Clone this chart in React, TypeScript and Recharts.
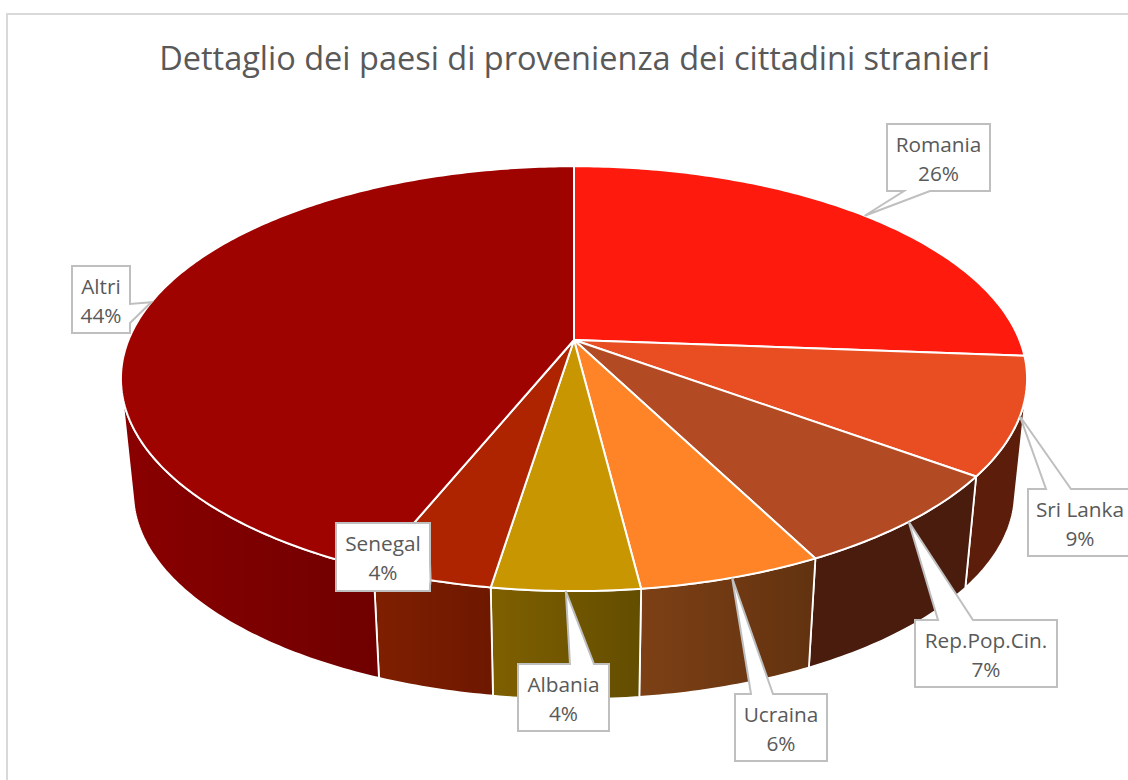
import React from "react";
import { PieChart, Pie } from "recharts";

const TITLE = "Dettaglio dei paesi di provenienza dei cittadini stranieri";
const countries = ["Romania", "Sri Lanka", "Rep.Pop.Cin.", "Ucraina", "Albania", "Senegal", "Altri"];
const shares = [26.2, 8.9, 7.4, 5.53, 4.42, 3.65, 43.9];
const topColors = ["#ff1a0e", "#e84e22", "#b24a24", "#ff8427", "#c89600", "#ae2400", "#9e0300"];
const sideLeftColors = ["#8a0c06", "#5c1e0a", "#4a1c0e", "#7d4015", "#7f6000", "#7f1f00", "#8a0000"];
const sideRightColors = ["#8a0c06", "#5c1e0a", "#4a1c0e", "#623210", "#634d00", "#6e1800", "#700000"];

// Callout layout: box x, y, w, h and the two points where the tail leaves the box.
const calloutBoxes = [
  { x: 887, y: 124, w: 103, h: 67, tail: [[930, 191], [904, 191]] },
  { x: 1028, y: 489, w: 104, h: 67, tail: [[1046, 489], [1071, 489]] },
  { x: 915, y: 620, w: 142, h: 67, tail: [[938, 620], [973, 620]] },
  { x: 735, y: 694, w: 92, h: 67, tail: [[751, 694], [773, 694]] },
  { x: 518, y: 664, w: 91, h: 67, tail: [[570, 664], [594, 664]] },
  { x: 336, y: 523, w: 94, h: 68, tail: [[430, 563], [430, 586]] },
  { x: 72, y: 266, w: 58, h: 67, tail: [[130, 304], [130, 323]] },
];

const chartData = countries.map((name, i) => ({ name, value: shares[i], idx: i }));

const PERSPECTIVE = 0.182;
const TILT = 0.461;
const DROP = 115;
const BASE_SCALE = 0.973;
const RAD = Math.PI / 180;
// Silhouette of the drum, in recharts angles (90 = top, -90 = bottom, -270 = top again).
const SILHOUETTE_RIGHT = -13;
const SILHOUETTE_LEFT = -167;

function project(cx: number, cy: number, r: number, deg: number, level: "top" | "base" = "top") {
  const X = Math.cos(deg * RAD);
  const Y = -Math.sin(deg * RAD);
  const d = 1 - PERSPECTIVE * Y;
  const s = level === "top" ? 1 : BASE_SCALE;
  const oy = level === "top" ? 0 : DROP;
  return { x: cx + (r * s * X) / d, y: cy + oy + (r * s * TILT * Y) / d };
}

function arcPoints(cx: number, cy: number, r: number, from: number, to: number, level: "top" | "base") {
  const n = Math.max(2, Math.ceil(Math.abs(to - from) / 0.75));
  const pts = [];
  for (let i = 0; i <= n; i++) pts.push(project(cx, cy, r, from + ((to - from) * i) / n, level));
  return pts;
}

const toPath = (pts: { x: number; y: number }[]) =>
  pts.map((p, i) => `${i ? "L" : "M"}${p.x.toFixed(2)} ${p.y.toFixed(2)}`).join(" ");

function TopFace(props: any) {
  const { cx, cy, outerRadius, startAngle, endAngle, payload } = props;
  const idx = payload?.idx ?? props.idx;
  const pts = arcPoints(cx, cy, outerRadius, startAngle, endAngle, "top");
  return (
    <path
      d={`M${cx} ${cy} ${toPath(pts).replace("M", "L")} Z`}
      fill={topColors[idx]}
      stroke="#ffffff"
      strokeWidth={2}
      strokeLinejoin="round"
    />
  );
}

function SideFace(props: any) {
  const { cx, cy, outerRadius, startAngle, endAngle, payload } = props;
  const idx = payload?.idx ?? props.idx;
  const from = Math.min(startAngle, SILHOUETTE_RIGHT);
  const to = Math.max(endAngle, SILHOUETTE_LEFT);
  if (from <= to) return <g />;
  const top = arcPoints(cx, cy, outerRadius, from, to, "top");
  const base = arcPoints(cx, cy, outerRadius, to, from, "base");
  const x1 = project(cx, cy, outerRadius, to, "top").x;
  const x2 = project(cx, cy, outerRadius, from, "top").x;
  const id = `side-grad-${idx}`;
  return (
    <g>
      <defs>
        <linearGradient id={id} gradientUnits="userSpaceOnUse" x1={x1} x2={x2} y1={0} y2={0}>
          <stop offset="0" stopColor={sideLeftColors[idx]} />
          <stop offset="1" stopColor={sideRightColors[idx]} />
        </linearGradient>
      </defs>
      <path
        d={`${toPath(top)} ${toPath(base).replace("M", "L")} Z`}
        fill={`url(#${id})`}
        stroke="#ffffff"
        strokeWidth={1.8}
        strokeLinejoin="round"
      />
    </g>
  );
}

function Callout(props: any) {
  const { cx, cy, outerRadius, midAngle, percent, name, payload, index } = props;
  const idx = payload?.idx ?? index;
  const box = calloutBoxes[idx];
  const tip = project(cx, cy, outerRadius, midAngle, "top");
  const { x, y, w, h, tail } = box;
  const [a, b] = tail;
  let d = "";
  if (a[1] === y + h) {
    d = `M${x} ${y} L${x + w} ${y} L${x + w} ${y + h} L${a[0]} ${a[1]} L${tip.x} ${tip.y} L${b[0]} ${b[1]} L${x} ${y + h} Z`;
  } else if (a[1] === y) {
    d = `M${x} ${y} L${a[0]} ${a[1]} L${tip.x} ${tip.y} L${b[0]} ${b[1]} L${x + w} ${y} L${x + w} ${y + h} L${x} ${y + h} Z`;
  } else {
    d = `M${x} ${y} L${x + w} ${y} L${a[0]} ${a[1]} L${tip.x} ${tip.y} L${b[0]} ${b[1]} L${x + w} ${y + h} L${x} ${y + h} Z`;
  }
  const mid = x + w / 2;
  const label = name ?? payload?.name;
  return (
    <g>
      <path d={d} fill="#ffffff" stroke="#bfbfbf" strokeWidth={2} />
      <text x={mid} y={y + 28} textAnchor="middle" fontFamily="Open Sans" fontSize={20.8} fill="#595959">
        {label}
      </text>
      <text x={mid} y={y + 56.5} textAnchor="middle" fontFamily="Open Sans" fontSize={20.8} fill="#595959">
        {`${Math.round(percent * 100)}%`}
      </text>
    </g>
  );
}

export default function App() {
  return (
    <div style={{ position: "absolute", left: 0, top: 0, width: 1128, height: 780, overflow: "hidden", background: "#fff" }}>
      <div
        style={{
          position: "absolute",
          left: 6,
          top: 13,
          width: 1200,
          height: 900,
          borderLeft: "2px solid #d9d9d9",
          borderTop: "2px solid #d9d9d9",
        }}
      />
      <div style={{ position: "absolute", left: 0, top: 0 }}>
        <PieChart width={1128} height={780} margin={{ top: 0, right: 0, bottom: 0, left: 0 }}>
          <text x={574.5} y={70} textAnchor="middle" fontFamily="Open Sans" fontSize={32.5} fill="#595959">
            {TITLE}
          </text>
          <Pie
            data={chartData}
            dataKey="value"
            nameKey="name"
            cx={574}
            cy={340}
            outerRadius={445.5}
            startAngle={90}
            endAngle={-270}
            isAnimationActive={false}
            label={false}
            labelLine={false}
            shape={SideFace}
            activeShape={SideFace}
            inactiveShape={SideFace}
          />
          <Pie
            data={chartData}
            dataKey="value"
            nameKey="name"
            cx={574}
            cy={340}
            outerRadius={445.5}
            startAngle={90}
            endAngle={-270}
            isAnimationActive={false}
            label={Callout}
            labelLine={false}
            shape={TopFace}
            activeShape={TopFace}
            inactiveShape={TopFace}
          />
        </PieChart>
      </div>
    </div>
  );
}
